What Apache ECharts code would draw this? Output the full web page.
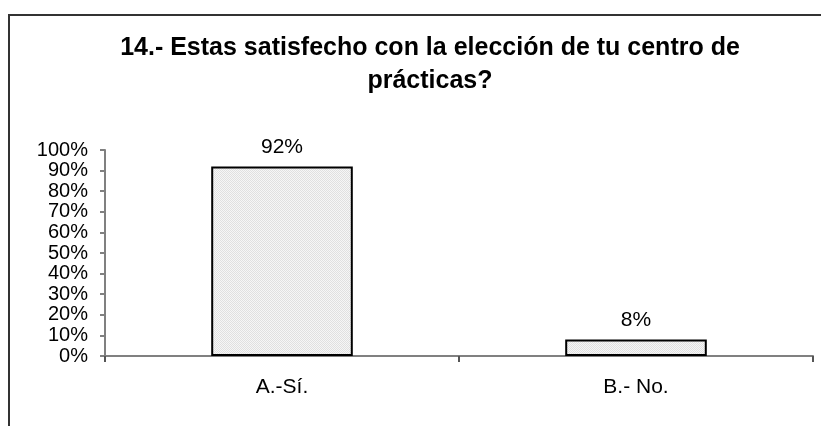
<!DOCTYPE html>
<html>
<head>
<meta charset="utf-8">
<script src="https://cdn.jsdelivr.net/npm/echarts@6/dist/echarts.min.js"></script>
<style>html,body{margin:0;padding:0;background:#fff;}#chart{width:821px;height:426px;}</style>
</head>
<body>
<div id="chart"></div>
<script>
const titleText = '14.- Estas satisfecho con la elección de tu centro de\nprácticas?';
const categories = ['A.-Sí.', 'B.- No.'];
const values = [92, 8];
const yTicks = [0, 10, 20, 30, 40, 50, 60, 70, 80, 90, 100];

// dotted fill pattern
const pc = document.createElement('canvas');
pc.width = 2; pc.height = 2;
const pctx = pc.getContext('2d');
pctx.fillStyle = '#f6f6f6'; pctx.fillRect(0,0,2,2);
pctx.fillStyle = '#e0e0e0'; pctx.fillRect(0,0,1,1); pctx.fillRect(1,1,1,1);

const font = 'Liberation Sans, Arial, sans-serif';
const chart = echarts.init(document.getElementById('chart'), null, {renderer: 'canvas'});
chart.setOption({
  animation: false,
  backgroundColor: '#fff',
  title: {
    text: titleText,
    left: 425, top: 27, textAlign: 'center',
    textStyle: {fontFamily: font, fontSize: 25, fontWeight: 'bold', color: '#000', lineHeight: 33}
  },
  graphic: [{
    type: 'rect', shape: {x: 9, y: 15, width: 900, height: 500},
    style: {fill: 'none', stroke: '#333', lineWidth: 2}, silent: true
  }],
  grid: {left: 105, right: 8, top: 150, bottom: 70},
  xAxis: {
    type: 'category', data: categories,
    axisLine: {lineStyle: {color: '#808080', width: 2}},
    axisTick: {show: true, length: 6, lineStyle: {color: '#555', width: 2}},
    axisLabel: {fontFamily: font, fontSize: 21, color: '#000', margin: 21}
  },
  yAxis: {
    type: 'value', min: 0, max: 100, interval: 10,
    splitLine: {show: false},
    axisLine: {show: true, lineStyle: {color: '#808080', width: 2}},
    axisTick: {show: true, length: 5, lineStyle: {color: '#808080', width: 2}},
    axisLabel: {fontFamily: font, fontSize: 20, color: '#000', margin: 17, formatter: v => yTicks.includes(v) ? v + '%' : ''}
  },
  series: [{
    type: 'bar', data: values, barWidth: '40%',
    itemStyle: {color: {image: pc, repeat: 'repeat'}, borderColor: '#000', borderWidth: 2},
    label: {show: true, position: 'top', distance: 9, formatter: p => p.value + '%', fontFamily: font, fontSize: 21, color: '#000'}
  }]
});
</script>
</body>
</html>
